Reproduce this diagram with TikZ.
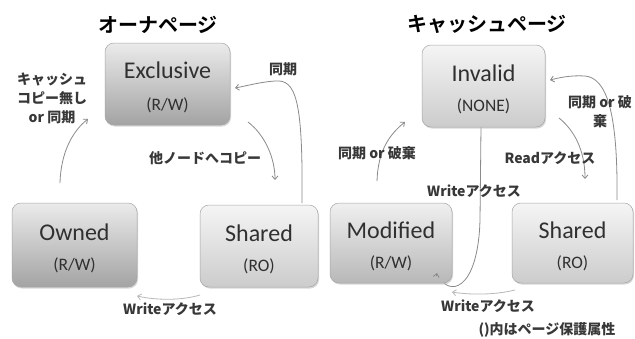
\documentclass[tikz,border=0pt]{standalone}
\usepackage{fontspec}
\setmainfont{Carlito}
\newfontfamily\jpf{Noto Sans CJK JP}
\newfontfamily\jpb{Noto Sans CJK JP Bold}
\usetikzlibrary{arrows.meta,shadows}
\definecolor{txt}{HTML}{383838}
\definecolor{boxtxt}{HTML}{303030}
\definecolor{arrc}{HTML}{8A8A8A}
\begin{document}
\begin{tikzpicture}[x=1pt,y=-1pt,
  boxbase/.style={draw=black!35, line width=0.5pt, rounded corners=9pt,
    drop shadow={shadow xshift=1pt,shadow yshift=-1.5pt,fill=black!25,opacity=0.6}},
  darkbox/.style={boxbase, top color=black!8, bottom color=black!36},
  lightbox/.style={boxbase, top color=black!4, bottom color=black!20},
  nm/.style={text=boxtxt, font=\fontsize{24}{26}\selectfont, inner sep=0pt},
  sb/.style={text=boxtxt, font=\fontsize{17.5}{19}\selectfont, inner sep=0pt},
  lbl/.style={text=txt, font=\jpf\bfseries\fontsize{14}{19}\selectfont, align=center, inner sep=0pt},
  ttl/.style={text=black, font=\jpb\fontsize{20}{22}\selectfont, inner sep=0pt},
  arr/.style={draw=arrc, line width=0.8pt, -{Straight Barb[length=3.5pt,width=6pt]}},
  arrl/.style={arr, draw=black!28},
]
\useasboundingbox (0,0) rectangle (635,338);
\fill[white] (0,0) rectangle (635,338);

% coordinates for connector ends
\coordinate (a1s) at (60,183);   \coordinate (a1e) at (88,119);
\coordinate (a2s) at (302,203);  \coordinate (a2e) at (235,88);
\coordinate (a3s) at (248,122);  \coordinate (a3e) at (275,180);
\coordinate (a4s) at (200,295);  \coordinate (a4e) at (137,296);
\coordinate (a5s) at (377,181);  \coordinate (a5e) at (405,122);
\coordinate (a6s) at (481,127);  \coordinate (a6e) at (437,273);
\coordinate (a7s) at (515,290);  \coordinate (a7e) at (452,292);
\coordinate (a8s) at (617,200);  \coordinate (a8e) at (550,80);
\coordinate (a9s) at (559,118);  \coordinate (a9e) at (585,179);

% long connector drawn behind the boxes
\draw[arr] (a6s) -- (480,220) .. controls (478,292) and (448,298) .. (a6e);

% boxes
\node[darkbox, minimum width=125pt, minimum height=82pt] (excl) at (167.5,84) {};
\node[darkbox, minimum width=125pt, minimum height=84pt] (owned) at (74.5,245) {};
\node[lightbox, minimum width=118pt, minimum height=82pt] (shl) at (259,246) {};
\node[lightbox, minimum width=123pt, minimum height=82pt] (inv) at (483.5,86) {};
\node[darkbox, minimum width=122pt, minimum height=80pt, top color=black!6, bottom color=black!28] (mod) at (391,243) {};
\node[lightbox, minimum width=121pt, minimum height=80pt] (shr) at (572.5,243) {};

% box texts
\node[nm] (exclN) at ([yshift=14pt]excl.center) {Exclusive};
\node[sb] (exclS) at ([yshift=-21pt]excl.center) {(R/W)};
\node[nm] (ownedN) at ([yshift=13pt]owned.center) {Owned};
\node[sb] (ownedS) at ([yshift=-20pt]owned.center) {(R/W)};
\node[nm] (shlN) at ([yshift=13pt]shl.center) {Shared};
\node[sb] (shlS) at ([yshift=-20pt]shl.center) {(RO)};
\node[nm] (invN) at ([yshift=13pt]inv.center) {Invalid};
\node[sb] (invS) at ([yshift=-20pt]inv.center) {(NONE)};
\node[nm] (modN) at ([yshift=13pt]mod.center) {Modified};
\node[sb] (modS) at ([yshift=-20pt]mod.center) {(R/W)};
\node[nm] (shrN) at ([yshift=13pt]shr.center) {Shared};
\node[sb] (shrS) at ([yshift=-20pt]shr.center) {(RO)};

% visible tip of the long connector
\draw[arr] ([xshift=-0.6pt,yshift=-3pt]a6e) -- (a6e);

% connectors
\draw[arr] (a1s) .. controls (61,150) and (74,130) .. (a1e);
\draw[arr] (a2s) .. controls (303,100) and (296,79) .. (275,81) .. controls (260,82) and (246,86) .. (a2e);
\draw[arr] (a3s) .. controls (265,135) and (275,158) .. (a3e);
\draw[arrl] (a4s) .. controls (180,301) and (155,300) .. (a4e);
\draw[arr] (a5s) .. controls (378,150) and (390,134) .. (a5e);
\draw[arrl] (a7s) .. controls (495,295) and (470,295) .. (a7e);
\draw[arr] (a8s) .. controls (618,110) and (606,78) .. (585,76) .. controls (570,75) and (558,78) .. (a8e);
\draw[arr] (a9s) .. controls (574,130) and (585,150) .. (a9e);

% titles
\node[ttl] (t1) at (158,25) {オーナページ};
\node[ttl] (t2) at (487,24) {キャッシュページ};

% labels
\node[lbl] (l1) at (52,98) {キャッシュ\\コピー無し\\or 同期};
\node[lbl] (l2) at (283,69) {同期};
\node[lbl] (l3) at (205,158) {他ノードへコピー};
\node[lbl] (l4) at (170,309) {Writeアクセス};
\node[lbl] (l5) at (377,153) {同期 or 破棄};
\node[lbl] (l6) at (474,191) {Writeアクセス};
\node[lbl] (l7) at (488,306) {Writeアクセス};
\node[lbl] (l8) at (600,112) {同期 or 破\\棄};
\node[lbl] (l9) at (550,158) {Readアクセス};
\node[lbl] (l10) at (547,330) {()内はページ保護属性};
\end{tikzpicture}
\end{document}
